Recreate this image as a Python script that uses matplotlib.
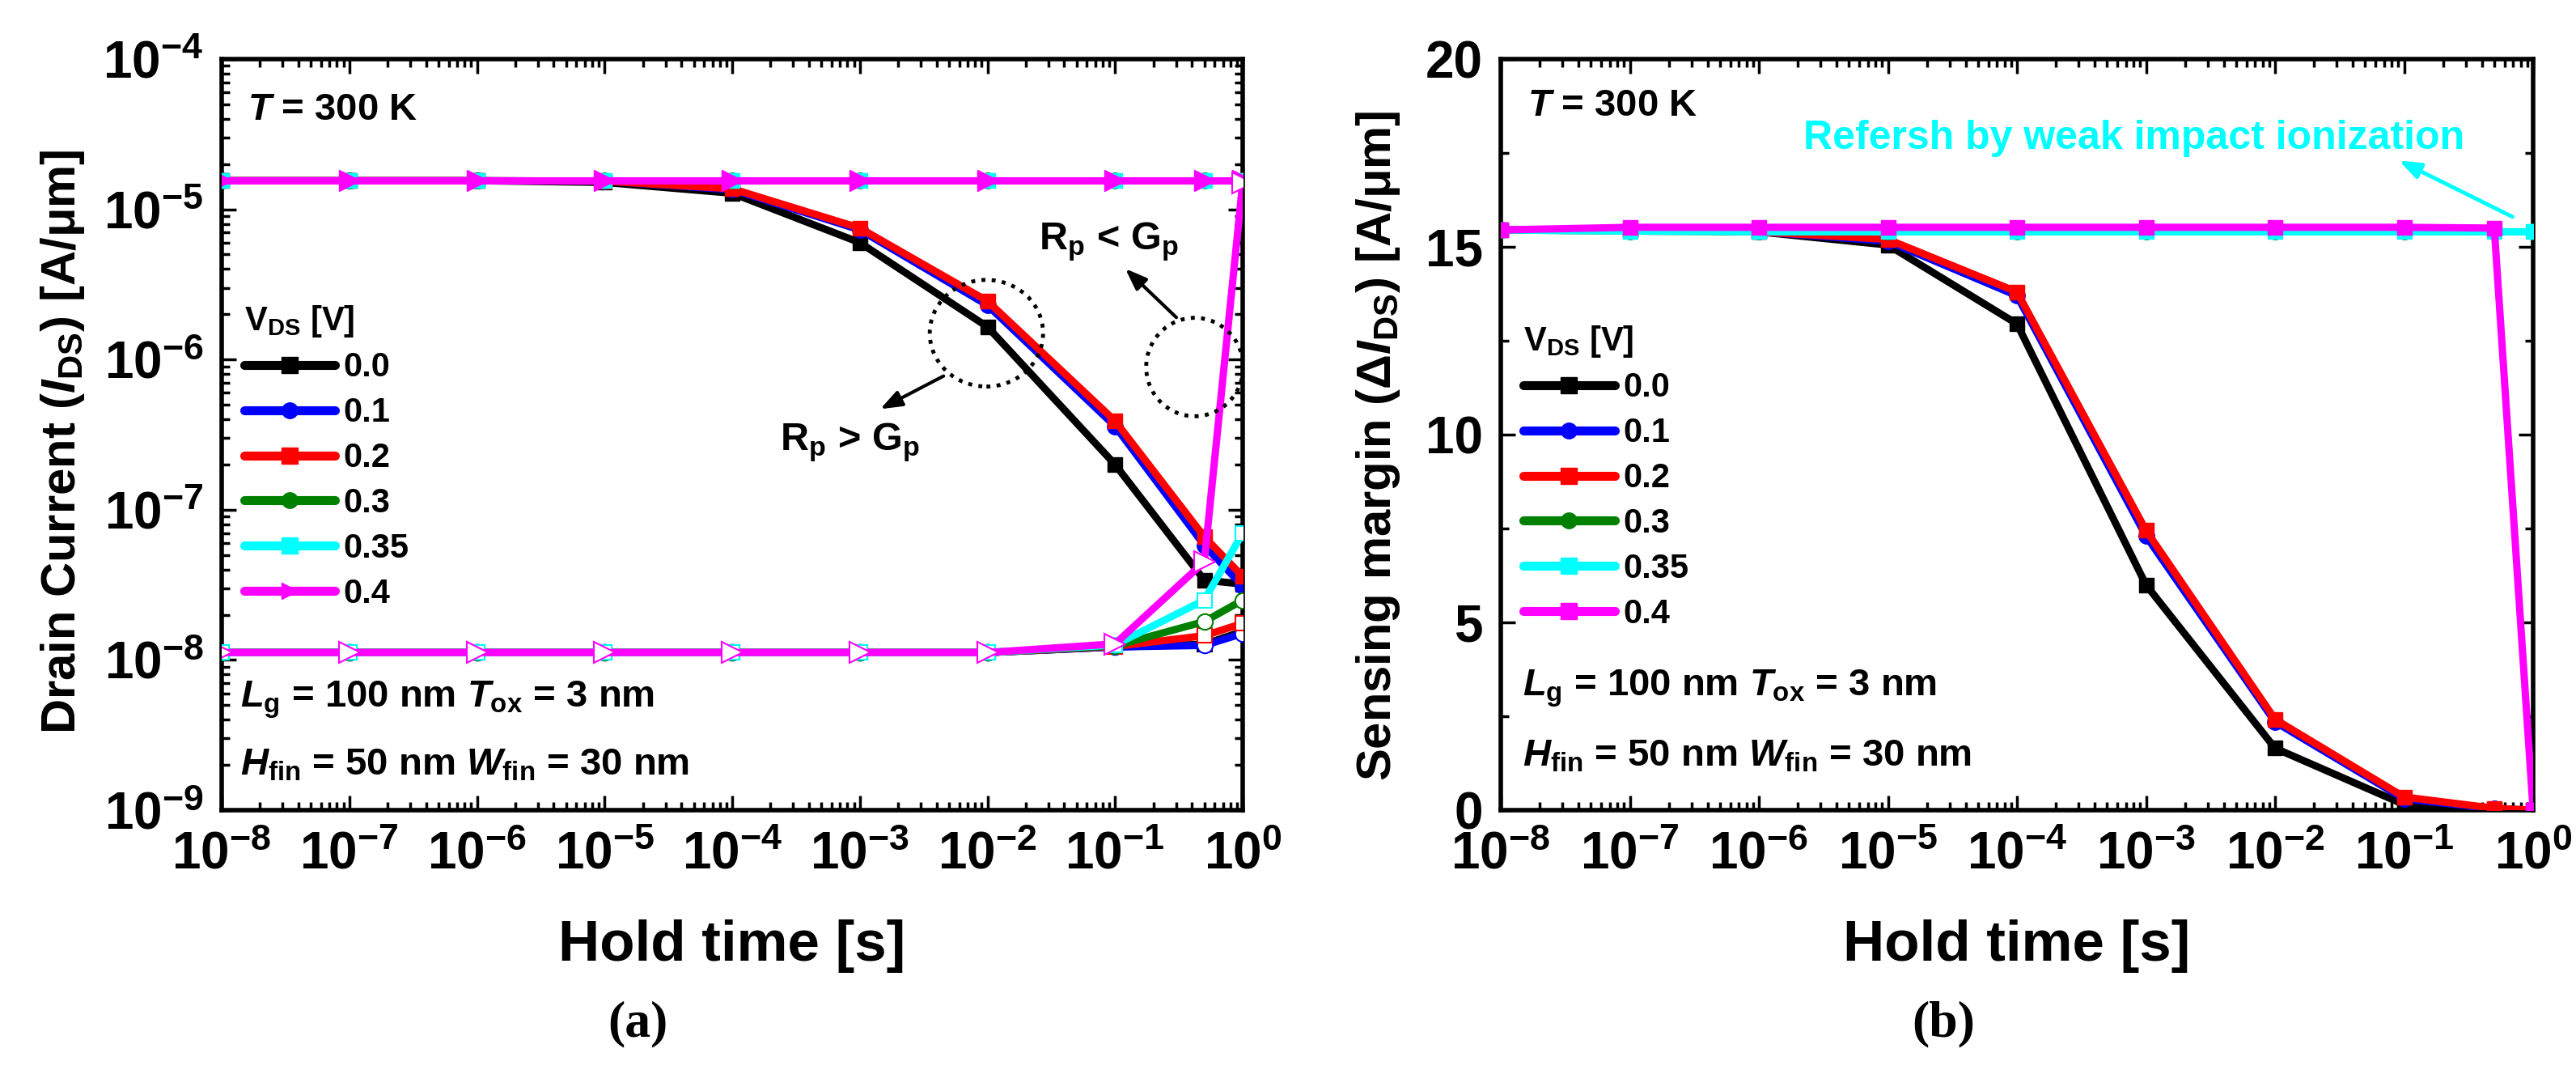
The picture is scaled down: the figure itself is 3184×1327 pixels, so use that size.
import numpy as np
import matplotlib
matplotlib.use("Agg")
import matplotlib.pyplot as plt
from matplotlib.ticker import LogLocator, NullFormatter, FuncFormatter, MultipleLocator
from matplotlib.patches import Ellipse

plt.rcParams['font.family'] = ['Liberation Sans', 'DejaVu Sans']
plt.rcParams['font.weight'] = 'bold'
plt.rcParams['mathtext.fontset'] = 'custom'
plt.rcParams['mathtext.rm'] = 'Liberation Sans:bold'
plt.rcParams['mathtext.bf'] = 'Liberation Sans:bold'
plt.rcParams['mathtext.it'] = 'Liberation Sans:italic:bold'
plt.rcParams['mathtext.sf'] = 'Liberation Sans:bold'

# ---------------- data ----------------
hold_time = [1e-8, 1e-7, 1e-6, 1e-5, 1e-4, 1e-3, 1e-2, 1e-1, 0.5, 1.0]
vds_labels = ['0.0', '0.1', '0.2', '0.3', '0.35', '0.4']
colors = ['#000000', '#0000FF', '#FF0000', '#008000', '#00FFFF', '#FF00FF']
markers_a = ['s', 'o', 's', 'o', 's', '>']
markers_b = ['s', 'o', 's', 'o', 's', 's']

# (a) drain current, high ("1") state [A/um]
ids_high_00 = [1.55e-5, 1.55e-5, 1.55e-5, 1.51e-5, 1.28e-5, 6.0e-6, 1.65e-6, 2.0e-7, 3.4e-8, 3.2e-8]
ids_high_01 = [1.55e-5, 1.55e-5, 1.55e-5, 1.54e-5, 1.35e-5, 7.3e-6, 2.3e-6, 3.6e-7, 5.8e-8, 3.1e-8]
ids_high_02 = [1.55e-5, 1.55e-5, 1.55e-5, 1.54e-5, 1.37e-5, 7.5e-6, 2.45e-6, 3.9e-7, 6.6e-8, 3.6e-8]
ids_high_03 = [1.55e-5, 1.55e-5, 1.55e-5, 1.55e-5, 1.55e-5, 1.55e-5, 1.55e-5, 1.55e-5, 1.55e-5, 1.55e-5]
ids_high_035 = [1.55e-5, 1.55e-5, 1.55e-5, 1.55e-5, 1.55e-5, 1.55e-5, 1.55e-5, 1.55e-5, 1.55e-5, 1.55e-5]
ids_high_04 = [1.55e-5, 1.55e-5, 1.55e-5, 1.55e-5, 1.55e-5, 1.55e-5, 1.55e-5, 1.55e-5, 1.55e-5, 1.55e-5]

# (a) drain current, low ("0") state [A/um]
ids_low_00 = [1.12e-8, 1.12e-8, 1.12e-8, 1.12e-8, 1.12e-8, 1.12e-8, 1.12e-8, 1.22e-8, 1.27e-8, 1.55e-8]
ids_low_01 = [1.12e-8, 1.12e-8, 1.12e-8, 1.12e-8, 1.12e-8, 1.12e-8, 1.12e-8, 1.22e-8, 1.25e-8, 1.50e-8]
ids_low_02 = [1.12e-8, 1.12e-8, 1.12e-8, 1.12e-8, 1.12e-8, 1.12e-8, 1.12e-8, 1.23e-8, 1.45e-8, 1.75e-8]
ids_low_03 = [1.12e-8, 1.12e-8, 1.12e-8, 1.12e-8, 1.12e-8, 1.12e-8, 1.12e-8, 1.24e-8, 1.80e-8, 2.5e-8]
ids_low_035 = [1.12e-8, 1.12e-8, 1.12e-8, 1.12e-8, 1.12e-8, 1.12e-8, 1.12e-8, 1.26e-8, 2.5e-8, 7.0e-8]
ids_low_04 = [1.12e-8, 1.12e-8, 1.12e-8, 1.12e-8, 1.12e-8, 1.12e-8, 1.12e-8, 1.28e-8, 4.5e-8, 1.5e-5]

# (b) sensing margin
sm_00 = [15.45, 15.45, 15.40, 15.05, 12.95, 6.0, 1.65, 0.15, 0.02, 0.0]
sm_01 = [15.45, 15.45, 15.40, 15.15, 13.70, 7.3, 2.35, 0.30, 0.04, 0.0]
sm_02 = [15.45, 15.45, 15.40, 15.20, 13.80, 7.45, 2.42, 0.35, 0.05, 0.0]
sm_03 = [15.45, 15.42, 15.40, 15.40, 15.40, 15.40, 15.40, 15.40, 15.40, 15.40]
sm_035 = [15.45, 15.42, 15.40, 15.40, 15.40, 15.40, 15.40, 15.40, 15.40, 15.40]
sm_04 = [15.45, 15.52, 15.52, 15.52, 15.52, 15.52, 15.52, 15.52, 15.50, 0.0]

ids_high = [ids_high_00, ids_high_01, ids_high_02, ids_high_03, ids_high_035, ids_high_04]
ids_low = [ids_low_00, ids_low_01, ids_low_02, ids_low_03, ids_low_035, ids_low_04]
sm = [sm_00, sm_01, sm_02, sm_03, sm_035, sm_04]

# ---------------- figure ----------------
W, H = 3184, 1327
fig = plt.figure(figsize=(W / 100, H / 100), dpi=100)
ax1 = fig.add_axes([274 / W, 1 - 1001 / H, 1262 / W, 928 / H])
ax2 = fig.add_axes([1855 / W, 1 - 1001 / H, 1276 / W, 928 / H])

LW = 6.5
TICK_FS = 46
XLABEL_FS = 51
YLABEL_FS = 43
ANN_FS = 34
LEG_FS = 30


def msize(m):
    return {'s': 13, 'o': 14, '>': 19}[m]


def pow_fmt(v, p):
    if v <= 0:
        return ''
    e = int(round(np.log10(v)))
    return r'$10^{%d}$' % e


def style_axes(ax):
    for s in ax.spines.values():
        s.set_linewidth(4)
    ax.set_xscale('log')
    ax.set_xlim(1e-8, 1.0)
    ax.xaxis.set_major_locator(LogLocator(base=10, numticks=100))
    ax.xaxis.set_minor_locator(LogLocator(base=10, subs=np.arange(2, 10), numticks=100))
    ax.xaxis.set_minor_formatter(NullFormatter())
    ax.xaxis.set_major_formatter(FuncFormatter(pow_fmt))
    ax.tick_params(which='both', direction='in', top=True, right=True, width=2.5)
    ax.tick_params(which='major', length=13, labelsize=TICK_FS)
    ax.tick_params(axis='x', which='major', pad=18)
    ax.tick_params(axis='y', which='major', pad=16)
    ax.tick_params(which='minor', length=7)
    ax.set_xlabel('Hold time [s]', fontsize=XLABEL_FS, fontweight='bold')
    ax.xaxis.set_label_coords(0.5, -0.145)


def style_legend(leg):
    for t in leg.get_texts():
        t.set_fontweight('bold')
    for ln in leg.get_lines():
        ln.set_linewidth(8)
        ln.set_solid_capstyle('round')
        ln.set_markersize(14)


# ---------------- (a) ----------------
handles = []
for i in range(6):
    c = colors[i]
    m = markers_a[i]
    ln, = ax1.plot(hold_time, ids_high[i], color=c, lw=LW, marker=m, ms=msize(m),
                   mfc=c, mec=c, label=vds_labels[i], zorder=3 + i)
    handles.append(ln)
for i in range(6):
    c = colors[i]
    m = markers_a[i]
    ax1.plot(hold_time, ids_low[i], color=c, lw=LW, marker=m, ms=msize(m),
             mfc='white', mec=c, mew=1.5, zorder=3 + i)

ax1.set_yscale('log')
ax1.set_ylim(1e-9, 1e-4)
ax1.yaxis.set_major_locator(LogLocator(base=10, numticks=100))
ax1.yaxis.set_minor_locator(LogLocator(base=10, subs=np.arange(2, 10), numticks=100))
ax1.yaxis.set_minor_formatter(NullFormatter())
ax1.yaxis.set_major_formatter(FuncFormatter(pow_fmt))
style_axes(ax1)
ax1.set_ylabel(r'Drain Current ($I_{\rm DS}$) [A/μm]', fontsize=YLABEL_FS, fontweight='bold')
ax1.yaxis.set_label_coords(-0.132, 0.49)

ax1.text(0.025, 0.932, r'$T$ = 300 K', transform=ax1.transAxes, fontsize=ANN_FS,
         fontweight='bold', va='center', ha='left')
ax1.text(0.018, 0.147, r'$L_{\rm g}$ = 100 nm $T_{\rm ox}$ = 3 nm', transform=ax1.transAxes,
         fontsize=ANN_FS, fontweight='bold', va='center', ha='left')
ax1.text(0.018, 0.060, r'$H_{\rm fin}$ = 50 nm $W_{\rm fin}$ = 30 nm', transform=ax1.transAxes,
         fontsize=ANN_FS, fontweight='bold', va='center', ha='left')
ax1.text(0.615, 0.49, r'R$_{\rm p}$ > G$_{\rm p}$', transform=ax1.transAxes,
         fontsize=35, fontweight='bold', va='center', ha='center')
ax1.text(0.869, 0.757, r'R$_{\rm p}$ < G$_{\rm p}$', transform=ax1.transAxes,
         fontsize=35, fontweight='bold', va='center', ha='center')

ax1.add_patch(Ellipse((0.749, 0.635), 0.111, 0.142, transform=ax1.transAxes, fill=False,
                      ec='black', lw=3.5, ls=(0, (1, 1.6)), zorder=20))
ax1.add_patch(Ellipse((0.953, 0.590), 0.095, 0.131, transform=ax1.transAxes, fill=False,
                      ec='black', lw=3.5, ls=(0, (1, 1.6)), zorder=20))
arrow_kw = dict(arrowstyle='-|>,head_length=0.8,head_width=0.3', lw=3, color='black',
                mutation_scale=20, shrinkA=0, shrinkB=0)
ax1.annotate('', xy=(0.645, 0.534), xytext=(0.707, 0.578), xycoords='axes fraction',
             textcoords='axes fraction', arrowprops=arrow_kw, zorder=21)
ax1.annotate('', xy=(0.885, 0.721), xytext=(0.935, 0.656), xycoords='axes fraction',
             textcoords='axes fraction', arrowprops=arrow_kw, zorder=21)

leg1 = ax1.legend(handles=handles, title=r'V$_{\rm DS}$ [V]', loc='upper left',
                  bbox_to_anchor=(0.022, 0.675), frameon=False, fontsize=LEG_FS,
                  title_fontsize=LEG_FS, handlelength=2.7, handletextpad=0.25,
                  labelspacing=0.38, borderpad=0, borderaxespad=0, alignment='left')
style_legend(leg1)

# ---------------- (b) ----------------
handles2 = []
for i in range(6):
    c = colors[i]
    m = markers_b[i]
    ln, = ax2.plot(hold_time, sm[i], color=c, lw=LW, marker=m, ms=msize(m),
                   mfc=c, mec=c, label=vds_labels[i], zorder=3 + i)
    handles2.append(ln)
ax2.set_ylim(0, 20)
ax2.yaxis.set_major_locator(MultipleLocator(5))
ax2.yaxis.set_minor_locator(MultipleLocator(2.5))
style_axes(ax2)
ax2.set_ylabel(r'Sensing margin (Δ$I_{\rm DS}$) [A/μm]', fontsize=YLABEL_FS, fontweight='bold')
ax2.yaxis.set_label_coords(-0.096, 0.485)

ax2.text(0.026, 0.9375, r'$T$ = 300 K', transform=ax2.transAxes, fontsize=ANN_FS,
         fontweight='bold', va='center', ha='left')
ax2.text(0.021, 0.162, r'$L_{\rm g}$ = 100 nm $T_{\rm ox}$ = 3 nm', transform=ax2.transAxes,
         fontsize=ANN_FS, fontweight='bold', va='center', ha='left')
ax2.text(0.021, 0.072, r'$H_{\rm fin}$ = 50 nm $W_{\rm fin}$ = 30 nm', transform=ax2.transAxes,
         fontsize=ANN_FS, fontweight='bold', va='center', ha='left')
ax2.text(0.293, 0.894, 'Refersh by weak impact ionization', transform=ax2.transAxes,
         fontsize=36, fontweight='bold', color='#00FFFF', va='center', ha='left')
arrow_kw2 = dict(arrowstyle='-|>,head_length=0.8,head_width=0.3', lw=3.5, color='#00FFFF',
                 mutation_scale=20, shrinkA=0, shrinkB=0)
ax2.annotate('', xy=(0.870, 0.865), xytext=(0.980, 0.790), xycoords='axes fraction',
             textcoords='axes fraction', arrowprops=arrow_kw2, zorder=21)

leg2 = ax2.legend(handles=handles2, title=r'V$_{\rm DS}$ [V]', loc='upper left',
                  bbox_to_anchor=(0.022, 0.648), frameon=False, fontsize=LEG_FS,
                  title_fontsize=LEG_FS, handlelength=2.7, handletextpad=0.25,
                  labelspacing=0.38, borderpad=0, borderaxespad=0, alignment='left')
style_legend(leg2)

# panel labels
fig.text(788 / W, 1 - 1265 / H, '(a)', fontsize=46, family='Liberation Serif',
         fontweight='bold', ha='center', va='center')
fig.text(2402 / W, 1 - 1265 / H, '(b)', fontsize=46, family='Liberation Serif',
         fontweight='bold', ha='center', va='center')

fig.savefig('out.png', dpi=100)
